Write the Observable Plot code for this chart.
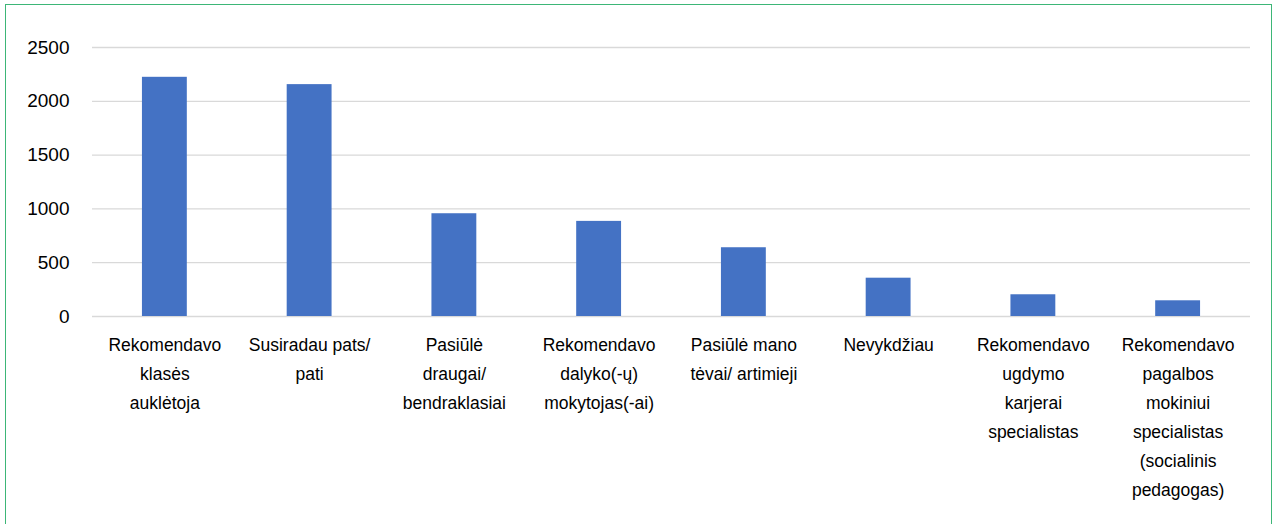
<!DOCTYPE html>
<html>
<head>
<meta charset="utf-8">
<script src="https://cdn.jsdelivr.net/npm/d3@7"></script>
<script src="https://cdn.jsdelivr.net/npm/@observablehq/plot@0.6"></script>
<style>
  html, body { margin: 0; padding: 0; background: #fff; }
  #wrap { position: relative; width: 1274px; height: 524px; overflow: hidden; }
  #frame { position: absolute; left: 5px; top: 4px; width: 1267px; height: 530px; border: 1.5px solid #3DB677; box-sizing: border-box; pointer-events: none; }
</style>
</head>
<body>
<div id="wrap"><div id="frame"></div></div>
<script>
const categories = [
  "Rekomendavo klasės auklėtoja",
  "Susiradau pats/ pati",
  "Pasiūlė draugai/ bendraklasiai",
  "Rekomendavo dalyko(-ų) mokytojas(-ai)",
  "Pasiūlė mano tėvai/ artimieji",
  "Nevykdžiau",
  "Rekomendavo ugdymo karjerai specialistas",
  "Rekomendavo pagalbos mokiniui specialistas (socialinis pedagogas)"
];
const labels = [
  "Rekomendavo\nklasės\nauklėtoja",
  "Susiradau pats/\npati",
  "Pasiūlė\ndraugai/\nbendraklasiai",
  "Rekomendavo\ndalyko(-ų)\nmokytojas(-ai)",
  "Pasiūlė mano\ntėvai/ artimieji",
  "Nevykdžiau",
  "Rekomendavo\nugdymo\nkarjerai\nspecialistas",
  "Rekomendavo\npagalbos\nmokiniui\nspecialistas\n(socialinis\npedagogas)"
];
const values = [2223, 2155, 955, 884, 639, 356, 202, 146];
const yTicks = [0, 500, 1000, 1500, 2000, 2500];

const data = categories.map((c, i) => ({category: c, value: values[i]}));
const labelOf = new Map(categories.map((c, i) => [c, labels[i]]));

const chart = Plot.plot({
  width: 1274,
  height: 524,
  marginLeft: 92,
  marginRight: 24,
  marginTop: 47,
  marginBottom: 208,
  style: {fontFamily: "'Liberation Sans', Arial, sans-serif", fontSize: "17.5px", color: "#000", background: "transparent"},
  x: {domain: categories, paddingInner: 0.69, paddingOuter: 0.345, round: false, label: null},
  y: {domain: [0, 2500], label: null},
  marks: [
    Plot.gridY(yTicks, {stroke: "#D9D9D9", strokeOpacity: 1, strokeWidth: 1.3}),
    Plot.barY(data, {x: "category", y: "value", fill: "#4472C4"}),
    Plot.axisY(yTicks, {tickSize: 0, tickPadding: 23, label: null, fontSize: 19, tickFormat: d => String(d)}),
    Plot.axisX({tickSize: 0, tickPadding: 14, label: null, fontSize: 17.5, lineHeight: 1.66, tickFormat: d => labelOf.get(d)})
  ]
});
document.getElementById("wrap").insertBefore(chart, document.getElementById("frame"));
</script>
</body>
</html>
